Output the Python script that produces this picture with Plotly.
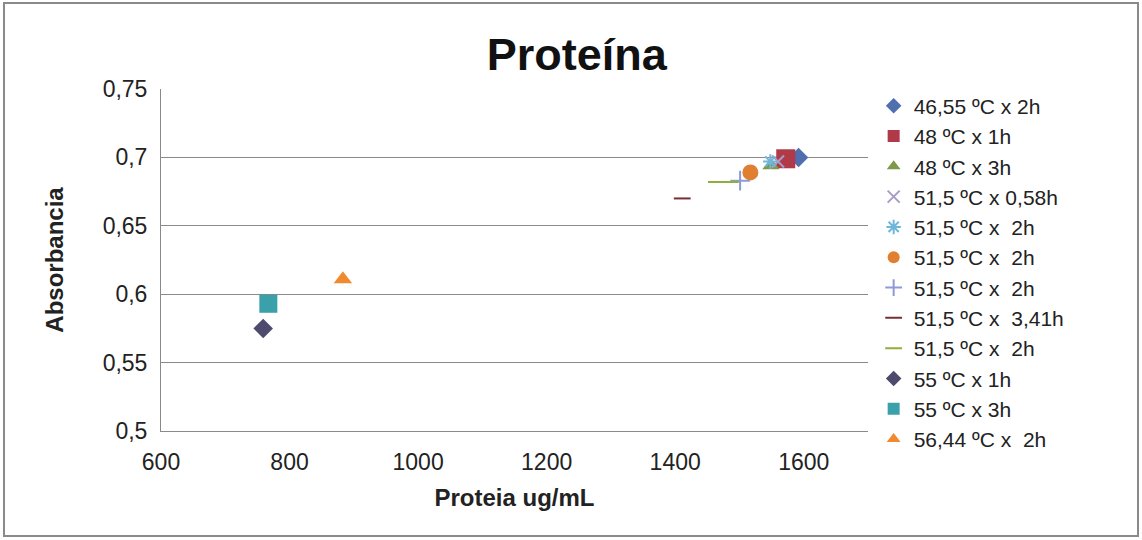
import plotly.graph_objects as go

# ---- data ----
series_names = [
    "46,55 ºC x 2h", "48 ºC x 1h", "48 ºC x 3h", "51,5 ºC x 0,58h",
    "51,5 ºC x\u00a0 2h", "51,5 ºC x\u00a0 2h", "51,5 ºC x\u00a0 2h",
    "51,5 ºC x\u00a0 3,41h", "51,5 ºC x\u00a0 2h", "55 ºC x 1h",
    "55 ºC x 3h", "56,44 ºC x\u00a0 2h",
]
proteina = [1592, 1572, 1549, 1560, 1548, 1517, 1501, 1411, 1475, 759, 767, 883]
absorbancia = [0.700, 0.699, 0.694, 0.697, 0.697, 0.689, 0.683, 0.670, 0.682, 0.575, 0.593, 0.611]

x_ticks = [600, 800, 1000, 1200, 1400, 1600]
y_ticks = [0.5, 0.55, 0.6, 0.65, 0.7, 0.75]
y_ticktext = ["0,5", "0,55", "0,6", "0,65", "0,7", "0,75"]

# ---- styles ----
symbols = ["diamond", "square", "triangle-up", "x-thin-open", "asterisk-open", "circle",
           "cross-thin-open", "line-ew-open", "line-ew-open", "diamond", "square", "triangle-up"]
colors = ["#4F6FAF", "#B03A48", "#7E9A46", "#A99CC8", "#6FB7DA", "#E07F30",
          "#8E9AD8", "#7A2E33", "#8FAE3A", "#4E4A6E", "#3AA0AA", "#F08A2E"]
sizes = [15, 19, 15, 12, 12, 16, 14, 12, 22, 15, 18, 16]

fig = go.Figure()
for i, name in enumerate(series_names):
    fig.add_trace(go.Scatter(
        x=[proteina[i]], y=[absorbancia[i]], mode="markers", name=name,
        marker=dict(symbol=symbols[i], color=colors[i], size=sizes[i],
                    line=dict(color=colors[i], width=2 if "open" in symbols[i] else 0)),
    ))

fig.update_layout(
    width=1142, height=540,
    margin=dict(l=161, r=274, t=89, b=109),
    paper_bgcolor="white", plot_bgcolor="white",
    font=dict(family="Liberation Sans, Arial", color="#222", size=22),
    title=dict(text="<b>Proteína</b>", x=0.505, xanchor="center", y=0.9, yanchor="middle",
               font=dict(size=45, color="#111")),
    xaxis=dict(range=[600, 1700], tickvals=x_ticks, showgrid=False,
               showline=True, linecolor="#8a8a8a", linewidth=1, ticks="",
               ticklabelstandoff=10,
               title=dict(text="<b>Proteia ug/mL</b>", font=dict(size=24), standoff=15),
               tickfont=dict(size=23), zeroline=False),
    yaxis=dict(range=[0.5, 0.75], tickvals=y_ticks, ticktext=y_ticktext,
               showgrid=True, gridcolor="#8a8a8a", gridwidth=1,
               showline=True, linecolor="#8a8a8a", linewidth=1, ticks="",
               ticklabelstandoff=8,
               title=dict(text="<b>Absorbancia</b>", font=dict(size=24), standoff=32),
               tickfont=dict(size=23), zeroline=False),
    legend=dict(x=1.008, xanchor="left", y=1.01, yanchor="top",
                font=dict(size=21), tracegroupgap=0, itemwidth=30,
                itemsizing="constant", bgcolor="rgba(0,0,0,0)",
                maxheight=500),
    showlegend=True,
)

# outer chart border
fig.add_shape(type="rect", xref="paper", yref="paper",
              x0=(4 - 161) / 707, x1=(1138 - 161) / 707,
              y0=1 - (536 - 89) / 342, y1=1 + (89 - 3) / 342,
              line=dict(color="#8a8a8a", width=2), fillcolor="rgba(0,0,0,0)", layer="below")

fig.write_html("out.html")
